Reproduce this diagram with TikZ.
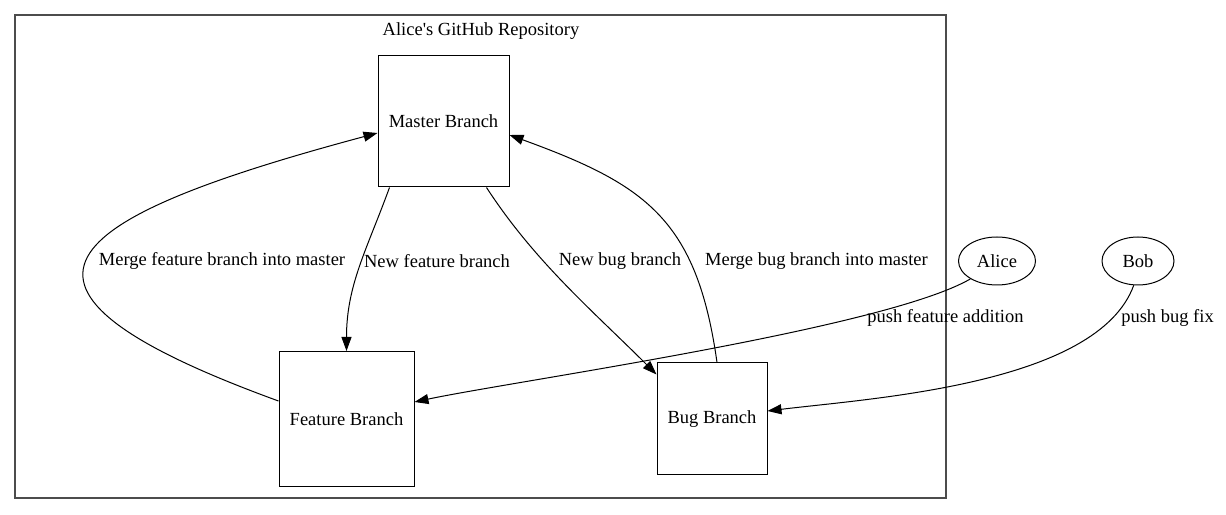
\documentclass[tikz,border=0pt]{standalone}
\usepackage{fontspec}
\setmainfont{Liberation Serif}
\usetikzlibrary{arrows.meta,shapes.geometric}

\begin{document}
\begin{tikzpicture}[x=1pt, y=1pt, inner sep=0pt, >={Triangle[length=14pt,width=10pt]},
  branch/.style={draw, rectangle, line width=1pt, font=\fontsize{18.5}{22}\selectfont},
  person/.style={draw, ellipse, line width=1pt, minimum height=48pt, font=\fontsize{18.5}{22}\selectfont},
  lbl/.style={font=\fontsize{18.5}{22}\selectfont},
  edge/.style={->, line width=1pt}]
\useasboundingbox (0,0) rectangle (1226,514);
\node (repo) at (480.5,257.5) [draw, black!70, line width=1.4pt, minimum width=931pt, minimum height=483pt] {};
\node (title) at (481,483) [lbl] {Alice\textquotesingle s GitHub Repository};
\node (ms) at (443.5,392.5) [branch, minimum width=131pt, minimum height=131pt] {Master Branch};
\node (ft) at (346.5,95) [branch, minimum width=135pt, minimum height=135pt] {Feature Branch};
\node (bg) at (712,95) [branch, minimum width=110pt, minimum height=112pt] {Bug Branch};
\node (al) at (997,253) [person, minimum width=77pt] {Alice};
\node (bo) at (1138,253) [person, minimum width=72pt] {Bob};
\draw[edge] ([xshift=12pt]ms.south west) to [out=-110,in=90] (ft.north);
\draw[edge] ([yshift=18pt]ft.west) to [out=160,in=195,looseness=3] ([yshift=-11.5pt]ms.west);
\draw[edge] ([xshift=-23pt]ms.south east) to [out=-57,in=135,looseness=0.9] ([yshift=-12pt]bg.north west);
\draw[edge] ([xshift=5pt]bg.north) to [out=98,in=-20,looseness=1.2] ([yshift=-13.5pt]ms.east);
\draw[edge] (al.214) to [out=-150,in=12,looseness=0.45] ([yshift=17pt]ft.east);
\draw[edge] (bo.-100) to [out=-110,in=7,looseness=0.7] ([yshift=8pt]bg.east);
\node (lmf) at (222,253) [lbl] {Merge feature branch into master};
\node (lnf) at (437,253) [lbl] {New feature branch};
\node (lnb) at (620,253) [lbl] {New bug branch};
\node (lmb) at (816.5,253) [lbl] {Merge bug branch into master};
\node (lpf) at (945.5,196) [lbl] {push feature addition};
\node (lpb) at (1167.5,196) [lbl] {push bug fix};
\end{tikzpicture}
\end{document}
